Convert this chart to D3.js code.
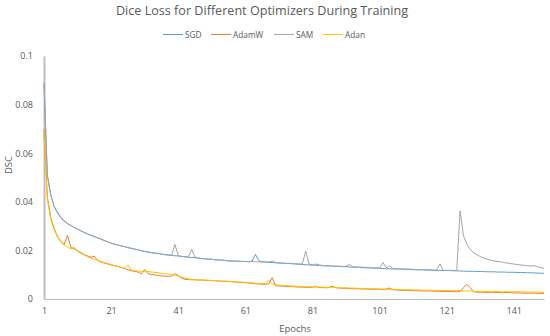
<!DOCTYPE html>
<html>
<head>
<meta charset="utf-8">
<script src="https://cdn.jsdelivr.net/npm/d3@7"></script>
<style>
  body { margin: 0; background: #fff; }
  text { font-family: "Open Sans", "Liberation Sans", sans-serif; fill: #595959; }
</style>
</head>
<body>
<div id="chart"></div>
<script>
// Valors llegits de la imatge (epoch 1..150)
const sgd = [
  0.089, 0.051, 0.043, 0.038, 0.0355, 0.0335, 0.032, 0.031, 0.0303, 0.0295,
  0.0287, 0.028, 0.0274, 0.0268, 0.0262, 0.0257, 0.0252, 0.0246, 0.024, 0.0235,
  0.023, 0.0226, 0.0222, 0.0219, 0.0215, 0.0212, 0.0209, 0.0205, 0.0202, 0.0199,
  0.0196, 0.0193, 0.0191, 0.0189, 0.0187, 0.0185, 0.0183, 0.0181, 0.0179, 0.0178,
  0.0177, 0.0175, 0.0174, 0.0172, 0.0171, 0.017, 0.0168, 0.0166, 0.0165, 0.0164,
  0.0163, 0.0162, 0.0161, 0.016, 0.0158, 0.0157, 0.0156, 0.0156, 0.0155, 0.0155,
  0.0154, 0.0154, 0.0156, 0.0184, 0.0158, 0.0153, 0.0152, 0.0151, 0.015, 0.0149,
  0.0148, 0.0147, 0.0147, 0.0146, 0.0145, 0.0144, 0.0143, 0.0142, 0.0141, 0.014,
  0.014, 0.0139, 0.0138, 0.0137, 0.0136, 0.0136, 0.0135, 0.0134, 0.0134, 0.0133,
  0.0133, 0.0132, 0.0131, 0.0131, 0.013, 0.0129, 0.0128, 0.0128, 0.0127, 0.0127,
  0.0126, 0.0125, 0.0125, 0.0124, 0.0124, 0.0123, 0.0123, 0.0122, 0.0122, 0.0121,
  0.0121, 0.012, 0.012, 0.012, 0.0119, 0.0119, 0.0118, 0.0118, 0.0118, 0.0117,
  0.0117, 0.0117, 0.0116, 0.0116, 0.0115, 0.0115, 0.0114, 0.0114, 0.0114, 0.0113,
  0.0113, 0.0113, 0.0112, 0.0112, 0.0112, 0.0111, 0.0111, 0.0111, 0.011, 0.011,
  0.011, 0.0109, 0.0109, 0.0109, 0.0108, 0.0108, 0.0107, 0.0107, 0.0106, 0.0106
];

const adamw = [
  0.0698, 0.042, 0.0335, 0.029, 0.0258, 0.0238, 0.0224, 0.0262, 0.0212, 0.0206,
  0.0199, 0.0191, 0.0183, 0.0177, 0.0172, 0.0176, 0.0159, 0.0152, 0.0148, 0.0144,
  0.014, 0.0137, 0.0134, 0.013, 0.0125, 0.0121, 0.0116, 0.0114, 0.0111, 0.0104,
  0.0122, 0.0104, 0.0101, 0.0099, 0.0097, 0.0095, 0.0094, 0.0093, 0.0094, 0.0105,
  0.0096, 0.0086, 0.0081, 0.008, 0.0079, 0.0079, 0.0078, 0.0078, 0.0077, 0.0076,
  0.0076, 0.0075, 0.0074, 0.0073, 0.0073, 0.0072, 0.0071, 0.007, 0.0069, 0.0068,
  0.0067, 0.0066, 0.0064, 0.0063, 0.0062, 0.0061, 0.006, 0.0063, 0.0088, 0.0055,
  0.0054, 0.0053, 0.0052, 0.0051, 0.0051, 0.005, 0.0049, 0.0049, 0.0048, 0.0048,
  0.0048, 0.0051, 0.0047, 0.0047, 0.0046, 0.0048, 0.0053, 0.0046, 0.0045, 0.0044,
  0.0044, 0.0043, 0.0042, 0.0042, 0.0042, 0.0041, 0.0041, 0.004, 0.004, 0.0041,
  0.004, 0.0039, 0.0041, 0.0045, 0.0038, 0.0037, 0.0036, 0.0036, 0.0035, 0.0035,
  0.0034, 0.0034, 0.0034, 0.0033, 0.0033, 0.0033, 0.0032, 0.0032, 0.0032, 0.0031,
  0.0031, 0.0031, 0.003, 0.003, 0.0031, 0.0047, 0.006, 0.0047, 0.003, 0.0028,
  0.0028, 0.0028, 0.0027, 0.0028, 0.0027, 0.0027, 0.0026, 0.0026, 0.0027, 0.0026,
  0.0025, 0.0025, 0.0025, 0.0024, 0.0024, 0.0024, 0.0024, 0.0023, 0.0023, 0.0023
];

const sam = [
  0.0885, 0.0505, 0.0428, 0.0382, 0.0357, 0.0337, 0.0322, 0.0311, 0.0302, 0.0296,
  0.0288, 0.0281, 0.0273, 0.0267, 0.0263, 0.0256, 0.0251, 0.0247, 0.0241, 0.0236,
  0.0229, 0.0225, 0.0223, 0.0218, 0.0216, 0.0211, 0.0208, 0.0206, 0.0203, 0.0198,
  0.0195, 0.0194, 0.019, 0.0188, 0.0188, 0.0184, 0.0182, 0.0182, 0.018, 0.0225,
  0.0178, 0.0176, 0.0173, 0.0173, 0.0204, 0.0172, 0.0169, 0.0167, 0.0166, 0.0163,
  0.0164, 0.0161, 0.016, 0.0161, 0.0159, 0.0156, 0.0157, 0.0155, 0.0156, 0.0154,
  0.0155, 0.0153, 0.0154, 0.0153, 0.0153, 0.0152, 0.0153, 0.0152, 0.0156, 0.015,
  0.0149, 0.0148, 0.0146, 0.0147, 0.0146, 0.0145, 0.0144, 0.0145, 0.0197, 0.0143,
  0.0141, 0.0144, 0.014, 0.0138, 0.0137, 0.0137, 0.0136, 0.0135, 0.0135, 0.0134,
  0.0135, 0.0143, 0.0133, 0.0132, 0.0131, 0.0131, 0.013, 0.0129, 0.0129, 0.0128,
  0.0128, 0.015, 0.0129, 0.0135, 0.0126, 0.0125, 0.0124, 0.0124, 0.0123, 0.0123,
  0.0122, 0.0122, 0.0121, 0.0121, 0.012, 0.012, 0.0119, 0.0119, 0.0144, 0.0118,
  0.0118, 0.0118, 0.0118, 0.0118, 0.0363, 0.026, 0.0225, 0.0205, 0.019, 0.0182,
  0.0175, 0.0168, 0.0164, 0.016, 0.0157, 0.0155, 0.0153, 0.015, 0.0148, 0.0146,
  0.0144, 0.0142, 0.014, 0.0139, 0.0137, 0.0136, 0.0137, 0.0133, 0.0129, 0.0127
];

const adan = [
  0.068, 0.041, 0.033, 0.0286, 0.0256, 0.0235, 0.0222, 0.0213, 0.0207, 0.0213,
  0.0196, 0.0188, 0.0181, 0.0174, 0.0168, 0.0163, 0.0159, 0.0154, 0.015, 0.0146,
  0.0142, 0.0138, 0.0134, 0.013, 0.0127, 0.014, 0.0118, 0.0116, 0.0115, 0.0114,
  0.0113, 0.0113, 0.0111, 0.011, 0.0108, 0.0106, 0.0104, 0.0102, 0.01, 0.0097,
  0.0095, 0.009, 0.0086, 0.0083, 0.0081, 0.008, 0.0079, 0.0078, 0.0078, 0.0077,
  0.0077, 0.0076, 0.0075, 0.0074, 0.0073, 0.0073, 0.0072, 0.0071, 0.007, 0.0069,
  0.0068, 0.0067, 0.0066, 0.0065, 0.0064, 0.0064, 0.0063, 0.0078, 0.0062, 0.0058,
  0.0057, 0.0056, 0.0055, 0.0054, 0.0053, 0.0053, 0.0052, 0.0051, 0.0051, 0.005,
  0.005, 0.005, 0.0049, 0.0049, 0.0048, 0.0048, 0.0048, 0.0047, 0.0047, 0.0046,
  0.0046, 0.0045, 0.0045, 0.0044, 0.0044, 0.0043, 0.0043, 0.0042, 0.0042, 0.0042,
  0.0041, 0.0041, 0.004, 0.004, 0.004, 0.0039, 0.0039, 0.0038, 0.0038, 0.0038,
  0.0037, 0.0037, 0.0037, 0.0036, 0.0036, 0.0036, 0.0036, 0.0035, 0.0035, 0.0035,
  0.0035, 0.0034, 0.0034, 0.0034, 0.0034, 0.0033, 0.0033, 0.0033, 0.0032, 0.0032,
  0.0032, 0.0032, 0.0031, 0.0031, 0.0031, 0.0031, 0.003, 0.003, 0.003, 0.003,
  0.003, 0.003, 0.0029, 0.0029, 0.0029, 0.0029, 0.0029, 0.0029, 0.0028, 0.0028
];

const seriesNames = ["SGD", "AdamW", "SAM", "Adan"];
const seriesColors = ["#5b9bd5", "#ed7d31", "#a5a5a5", "#ffc000"];
const xTicks = [1, 21, 41, 61, 81, 101, 121, 141];
const yTicks = [0, 0.02, 0.04, 0.06, 0.08, 0.1];

const W = 550, H = 336;
const margin = { top: 56, right: 4, bottom: 37, left: 44 };
const width = W - margin.left - margin.right;
const height = H - margin.top - margin.bottom;

const svgRoot = d3.select("#chart").append("svg")
  .attr("width", W)
  .attr("height", H);

svgRoot.append("text")
  .attr("x", 262)
  .attr("y", 15)
  .attr("text-anchor", "middle")
  .style("font-size", "12.6px")
  .text("Dice Loss for Different Optimizers During Training");

const svg = svgRoot.append("g")
  .attr("transform", `translate(${margin.left},${margin.top})`);

// Escales
const xScale = d3.scaleLinear().domain([1, 150]).range([0, width - 2]);
const yScale = d3.scaleLinear().domain([0, 0.1]).range([height, 0]);

// Eixos
const xAxis = svg.append("g")
  .attr("transform", `translate(0,${height})`)
  .call(d3.axisBottom(xScale).tickValues(xTicks).tickSize(0).tickPadding(9).tickFormat(d3.format("d")));
xAxis.select(".domain").attr("stroke", "#bfbfbf").attr("stroke-width", 1.2);
xAxis.selectAll("text").style("font-size", "9px").attr("fill", "#595959");

const yAxis = svg.append("g")
  .call(d3.axisLeft(yScale).tickValues(yTicks).tickSize(0).tickPadding(11)
    .tickFormat(d => d === 0 ? "0" : d3.format("")(+d.toFixed(2))));
yAxis.select(".domain").attr("stroke", "#bfbfbf").attr("stroke-width", 2);
yAxis.selectAll("text").style("font-size", "9px").attr("fill", "#595959");

// Títols dels eixos
svgRoot.append("text")
  .attr("x", 295)
  .attr("y", 332)
  .attr("text-anchor", "middle")
  .style("font-size", "9.5px")
  .text("Epochs");

svgRoot.append("text")
  .attr("transform", "translate(12,165) rotate(-90)")
  .attr("text-anchor", "middle")
  .style("font-size", "9.5px")
  .text("DSC");

// Línies
const line = d3.line()
  .x((d, i) => xScale(i + 1))
  .y(d => yScale(d));

[sgd, adamw, sam, adan].forEach((values, k) => {
  svg.append("path")
    .datum(values)
    .attr("fill", "none")
    .attr("stroke", seriesColors[k])
    .attr("stroke-width", 1)
    .attr("stroke-linejoin", "round")
    .attr("d", line);
});

// Llegenda
const legendX = [163, 211, 274, 323];
const legend = svgRoot.append("g");
seriesNames.forEach((name, i) => {
  legend.append("line")
    .attr("x1", legendX[i]).attr("x2", legendX[i] + 20)
    .attr("y1", 34.5).attr("y2", 34.5)
    .attr("stroke", seriesColors[i])
    .attr("stroke-width", 1);
  legend.append("text")
    .attr("x", legendX[i] + 22)
    .attr("y", 37.5)
    .style("font-size", "8.3px")
    .text(name);
});
</script>
</body>
</html>
